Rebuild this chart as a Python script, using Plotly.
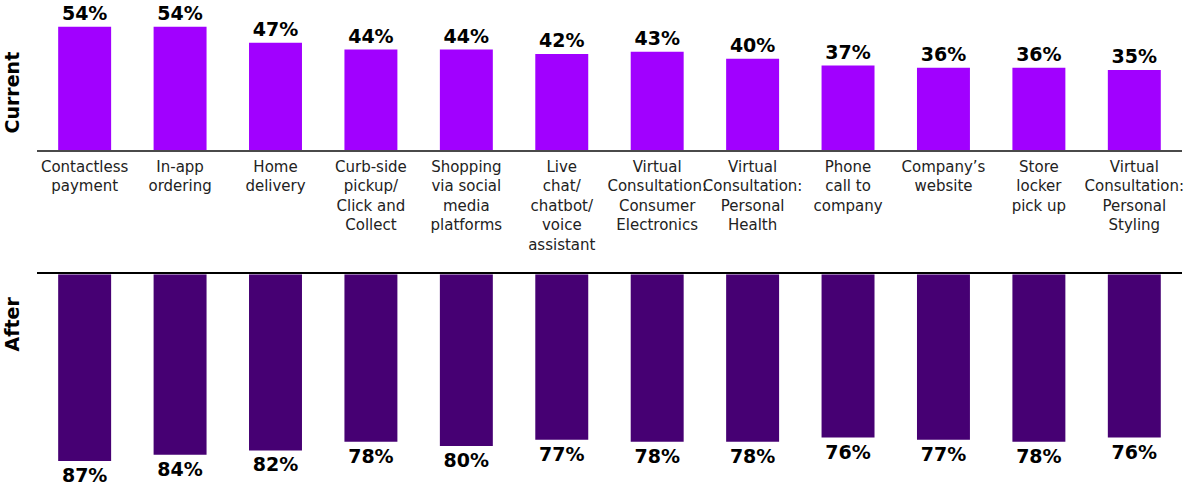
import plotly.graph_objects as go

categories = [
    "Contactless<br>payment",
    "In-app<br>ordering",
    "Home<br>delivery",
    "Curb-side<br>pickup/<br>Click and<br>Collect",
    "Shopping<br>via social<br>media<br>platforms",
    "Live<br>chat/<br>chatbot/<br>voice<br>assistant",
    "Virtual<br>Consultation:<br>Consumer<br>Electronics",
    "Virtual<br>Consultation:<br>Personal<br>Health",
    "Phone<br>call to<br>company",
    "Company’s<br>website",
    "Store<br>locker<br>pick up",
    "Virtual<br>Consultation:<br>Personal<br>Styling",
]
current_values = [54, 54, 47, 44, 44, 42, 43, 40, 37, 36, 36, 35]
after_values = [87, 84, 82, 78, 80, 77, 78, 78, 76, 77, 78, 76]
row_titles = ["Current", "After"]

W, H = 1197, 485
x0, x1 = 37 / W, 1184 / W
top_base, top_top = 150, 13
bot_base, bot_end = 274.3, 478.3

fig = go.Figure()
label_font = dict(family="DejaVu Sans", size=19, color="#000000")

fig.add_trace(go.Bar(
    x=categories, y=current_values, xaxis="x", yaxis="y",
    marker=dict(color="#A100FF", line=dict(width=0)), width=0.555,
    texttemplate="<b>%{y}%</b>", textposition="outside", cliponaxis=False,
    constraintext="none", textfont=label_font, hoverinfo="skip",
))
fig.add_trace(go.Bar(
    x=categories, y=after_values, xaxis="x2", yaxis="y2",
    marker=dict(color="#460073", line=dict(width=0)), width=0.555,
    texttemplate="<b>%{y}%</b>", textposition="outside", cliponaxis=False,
    constraintext="none", textfont=label_font, hoverinfo="skip",
))

fig.update_layout(
    width=W, height=H, margin=dict(l=0, r=0, t=0, b=0),
    paper_bgcolor="white", plot_bgcolor="white", showlegend=False,
    xaxis=dict(domain=[x0, x1], anchor="y", showline=True, linecolor="#4a4a4a", linewidth=1.5,
               ticks="outside", ticklen=2, tickcolor="rgba(0,0,0,0)",
               tickfont=dict(family="DejaVu Sans", size=15, color="#222222"),
               showgrid=False, zeroline=False, tickangle=0),
    yaxis=dict(domain=[1 - top_base / H, 1 - top_top / H], range=[0, 60], visible=False,
               showgrid=False, zeroline=False),
    xaxis2=dict(domain=[x0, x1], anchor="y2", side="top", showline=True, linecolor="#000000",
                linewidth=1.5, showticklabels=False, showgrid=False, zeroline=False),
    yaxis2=dict(domain=[1 - bot_end / H, 1 - bot_base / H], range=[95, 0], visible=False,
                showgrid=False, zeroline=False),
)

for title, yc in zip(row_titles, [92, 324]):
    fig.add_annotation(text="<b>" + title + "</b>", xref="paper", yref="paper",
                       x=12.5 / W, y=1 - yc / H, xanchor="center", yanchor="middle",
                       showarrow=False, textangle=-90,
                       font=dict(family="DejaVu Sans", size=19, color="#000000"))

fig.write_html("out.html")
